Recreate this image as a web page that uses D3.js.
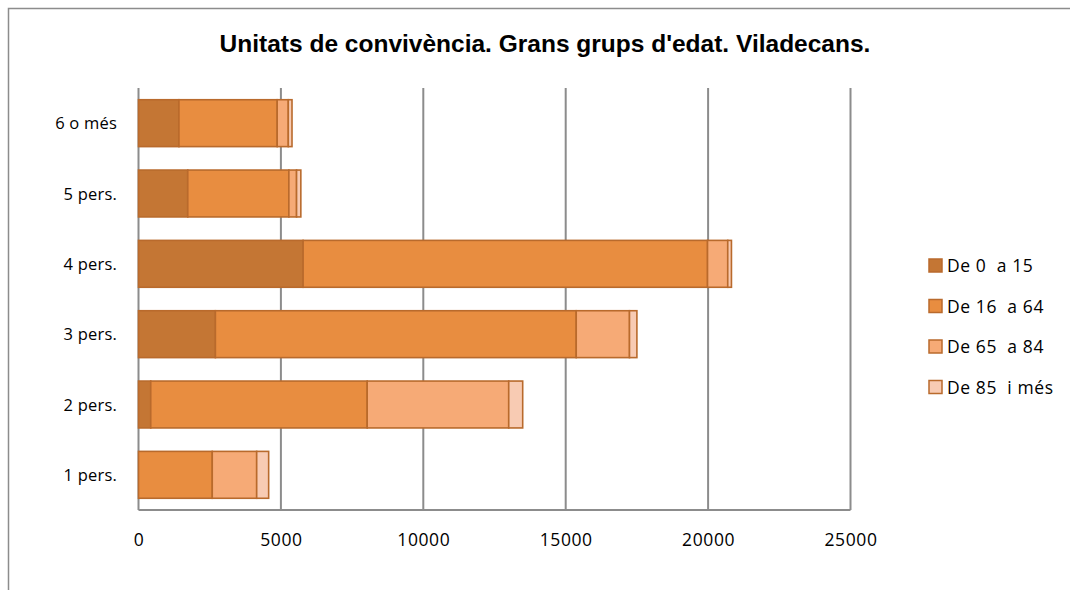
<!DOCTYPE html>
<html><head><meta charset="utf-8">
<script src="https://cdn.jsdelivr.net/npm/d3@7"></script>
<style>body{margin:0;background:#fff;}svg{display:block;}</style>
</head><body>
<svg id="c" width="1070" height="590"></svg>
<script>
const categories = ["6 o més","5 pers.","4 pers.","3 pers.","2 pers.","1 pers."];
const seriesNames = ["De 0 a 15","De 16 a 64","De 65 a 84","De 85 i més"];
const age0_15   = [1420, 1730, 5780, 2700, 430, 0];
const age16_64  = [3450, 3550, 14200, 12670, 7600, 2590];
const age65_84  = [390, 270, 710, 1870, 4970, 1560];
const age85plus = [130, 150, 130, 260, 490, 420];
const xTicks = [0,5000,10000,15000,20000,25000];
const colors = ["#C47634","#E88D40","#F6AA76","#F8CBB3"];

(function(){
const svg = d3.select("#c");
svg.append("rect").attr("x",8.5).attr("y",8.5).attr("width",1100).attr("height",700)
  .attr("fill","none").attr("stroke","#8c8c8c").attr("stroke-width",1.5);

svg.append("text").attr("x",545).attr("y",52).attr("text-anchor","middle")
  .attr("font-family","Liberation Sans, Arial, sans-serif").attr("font-weight","bold")
  .attr("font-size",24.5).attr("fill","#000").text("Unitats de convivència. Grans grups d'edat. Viladecans.");

const pLeft=138.5, pRight=850.5, pTop=88, pBottom=510;
const x = d3.scaleLinear().domain([0,25000]).range([pLeft,pRight]);
const y = d3.scaleBand().domain(categories).range([pTop,pBottom]).paddingInner(1/3).paddingOuter(1/6);

svg.append("g").selectAll("line").data(xTicks).join("line")
  .attr("x1",d=>x(d)).attr("x2",d=>x(d)).attr("y1",pTop).attr("y2",pBottom)
  .attr("stroke","#8c8c8c").attr("stroke-width",2);
svg.append("line").attr("x1",pLeft).attr("x2",pRight).attr("y1",pBottom).attr("y2",pBottom)
  .attr("stroke","#8c8c8c").attr("stroke-width",2);

const rows = categories.map((c,i)=>({cat:c,"De 0 a 15":age0_15[i],"De 16 a 64":age16_64[i],"De 65 a 84":age65_84[i],"De 85 i més":age85plus[i]}));
const stacked = d3.stack().keys(seriesNames)(rows);

svg.append("g").selectAll("g").data(stacked).join("g")
  .attr("fill",(d,i)=>colors[i])
  .selectAll("rect").data(d=>d).join("rect")
  .attr("x",d=>x(d[0])).attr("width",d=>Math.max(0,x(d[1])-x(d[0])))
  .attr("y",d=>y(d.data.cat)).attr("height",y.bandwidth())
  .attr("stroke",d=>(d[1]-d[0])>0?"#B96A2C":"none").attr("stroke-width",1.6);

const lblFont = "'Open Sans', Lato, sans-serif";
svg.append("g").selectAll("text").data(categories).join("text")
  .attr("x",117).attr("y",d=>y(d)+y.bandwidth()/2+6).attr("text-anchor","end")
  .attr("font-family",lblFont).attr("font-size",16.5).attr("letter-spacing",0.2).attr("fill","#000").text(d=>d);

const xAxis = d3.axisBottom(x).tickValues(xTicks).tickSize(0).tickPadding(24).tickFormat(d3.format("d"));
const gx = svg.append("g").attr("transform",`translate(0,${pBottom})`).call(xAxis);
gx.select(".domain").remove();
gx.selectAll("text").attr("font-family",lblFont).attr("font-size",17.5).attr("letter-spacing",0.6).attr("fill","#000");

const lg = svg.append("g");
seriesNames.forEach((s,i)=>{
  const yy = 266 + i*40.5;
  lg.append("rect").attr("x",929).attr("y",yy-7).attr("width",13).attr("height",13)
    .attr("fill",colors[i]).attr("stroke","#B96A2C").attr("stroke-width",1.5);
  lg.append("text").attr("x",947).attr("y",yy+6).attr("font-family",lblFont)
    .attr("font-size",17.5).attr("letter-spacing",0.6).attr("fill","#000").text(s.replace(/ a /," \u00a0a ").replace(/ i /," \u00a0i "));
});
})();
</script>
</body></html>
